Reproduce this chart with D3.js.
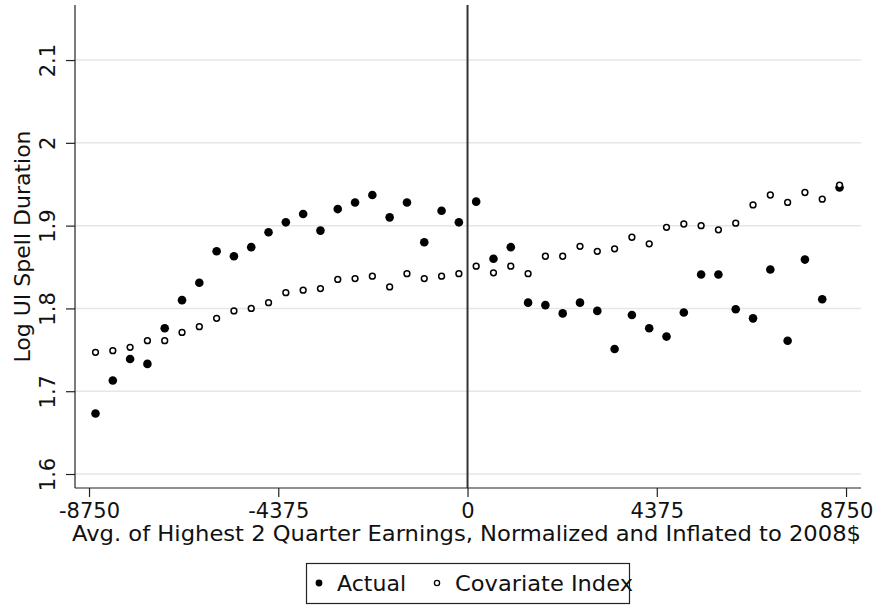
<!DOCTYPE html>
<html>
<head>
<meta charset="utf-8">
<style>
body { margin: 0; background: #fff; }
svg { display: block; }
text { font-family: "DejaVu Sans", sans-serif; fill: #111; }
.grid line { stroke: #e6e6e6; stroke-width: 1.5; }
.axis path, .axis line { stroke: #222; stroke-width: 1.2; }
</style>
<script src="https://d3js.org/d3.v7.min.js"></script>
</head>
<body>
<svg width="879" height="605"></svg>
<script>
// bins of the running variable
var bins = [-8600, -8200, -7800, -7400, -7000, -6600, -6200, -5800, -5400, -5000, -4600,
  -4200, -3800, -3400, -3000, -2600, -2200, -1800, -1400, -1000, -600, -200,
  200, 600, 1000, 1400, 1800, 2200, 2600, 3000, 3400, 3800, 4200, 4600, 5000,
  5400, 5800, 6200, 6600, 7000, 7400, 7800, 8200, 8600];
var actual = [1.673, 1.713, 1.739, 1.733, 1.776, 1.810, 1.831, 1.869, 1.863, 1.874, 1.892,
  1.904, 1.914, 1.894, 1.920, 1.928, 1.937, 1.910, 1.928, 1.880, 1.918, 1.904,
  1.929, 1.860, 1.874, 1.807, 1.804, 1.794, 1.807, 1.797, 1.751, 1.792, 1.776,
  1.766, 1.795, 1.841, 1.841, 1.799, 1.788, 1.847, 1.761, 1.859, 1.811, 1.946];
var covariate = [1.747, 1.749, 1.753, 1.761, 1.761, 1.771, 1.778, 1.788, 1.797, 1.800, 1.807,
  1.819, 1.822, 1.824, 1.835, 1.836, 1.839, 1.826, 1.842, 1.836, 1.839, 1.842,
  1.851, 1.843, 1.851, 1.842, 1.863, 1.863, 1.875, 1.869, 1.872, 1.886, 1.878,
  1.898, 1.902, 1.900, 1.895, 1.903, 1.925, 1.937, 1.928, 1.940, 1.932, 1.949];
var xTicks = [-8750, -4375, 0, 4375, 8750];
var yTicks = [1.6, 1.7, 1.8, 1.9, 2, 2.1];

var svg = d3.select("svg");
var mLeft = 75, mRight = 861, mTop = 5, mBottom = 488;

var x = d3.scaleLinear().domain([-9074, 9096]).range([mLeft, mRight]);
var y = d3.scaleLinear().domain([1.5831, 2.1665]).range([mBottom, mTop]);

// gridlines
svg.append("g").attr("class", "grid")
  .selectAll("line").data(yTicks).enter().append("line")
  .attr("x1", mLeft).attr("x2", mRight)
  .attr("y1", function(d) { return y(d); })
  .attr("y2", function(d) { return y(d); });

// cutoff line
svg.append("line")
  .attr("x1", x(0)).attr("x2", x(0))
  .attr("y1", mTop).attr("y2", mBottom)
  .attr("stroke", "#333").attr("stroke-width", 2);

// axes
var xAxis = svg.append("g").attr("class", "axis")
  .attr("transform", "translate(0," + mBottom + ")")
  .call(d3.axisBottom(x).tickValues(xTicks).tickSize(9).tickSizeOuter(0)
    .tickFormat(function(d) { return String(d); }));
xAxis.select(".domain").attr("d", "M" + mLeft + ",0H" + mRight);
xAxis.selectAll("text").attr("font-size", 21).attr("dy", null).attr("y", 30);

var yAxis = svg.append("g").attr("class", "axis")
  .attr("transform", "translate(" + mLeft + ",0)")
  .call(d3.axisLeft(y).tickValues(yTicks).tickSize(9).tickSizeOuter(0)
    .tickFormat(function(d) { return String(d); }));
yAxis.select(".domain").attr("d", "M0," + mTop + "V" + mBottom);
yAxis.selectAll("text")
  .attr("font-size", 21)
  .attr("x", null).attr("dy", null)
  .attr("text-anchor", "middle")
  .attr("transform", "translate(-20,0) rotate(-90)");

// axis titles
svg.append("text")
  .attr("x", 72).attr("y", 541)
  .attr("font-size", 22)
  .attr("textLength", 789).attr("lengthAdjust", "spacingAndGlyphs")
  .text("Avg. of Highest 2 Quarter Earnings, Normalized and Inflated to 2008$");
svg.append("text")
  .attr("transform", "translate(30," + (mTop + mBottom) / 2 + ") rotate(-90)")
  .attr("text-anchor", "middle").attr("font-size", 22)
  .text("Log UI Spell Duration");

// points
svg.append("g").selectAll("circle").data(bins).enter().append("circle")
  .attr("cx", function(d) { return x(d); })
  .attr("cy", function(d, i) { return y(actual[i]); })
  .attr("r", 4.3).attr("fill", "#000");
svg.append("g").selectAll("circle").data(bins).enter().append("circle")
  .attr("cx", function(d) { return x(d); })
  .attr("cy", function(d, i) { return y(covariate[i]); })
  .attr("r", 2.9).attr("fill", "#fff").attr("stroke", "#000").attr("stroke-width", 1.5);

// legend (text spills slightly past the box, as in the original)
var lg = svg.append("g");
lg.append("rect").attr("x", 306.5).attr("y", 563.5).attr("width", 323).attr("height", 40)
  .attr("fill", "none").attr("stroke", "#222").attr("stroke-width", 1.2);
lg.append("circle").attr("cx", 319).attr("cy", 583).attr("r", 3.4).attr("fill", "#000");
lg.append("text").attr("x", 337).attr("y", 591).attr("font-size", 22)
  .attr("textLength", 69).attr("lengthAdjust", "spacingAndGlyphs").text("Actual");
lg.append("circle").attr("cx", 437).attr("cy", 583).attr("r", 2.6)
  .attr("fill", "#fff").attr("stroke", "#000").attr("stroke-width", 1.3);
lg.append("text").attr("x", 455).attr("y", 591).attr("font-size", 22)
  .attr("textLength", 178).attr("lengthAdjust", "spacingAndGlyphs").text("Covariate Index");
</script>
</body>
</html>
